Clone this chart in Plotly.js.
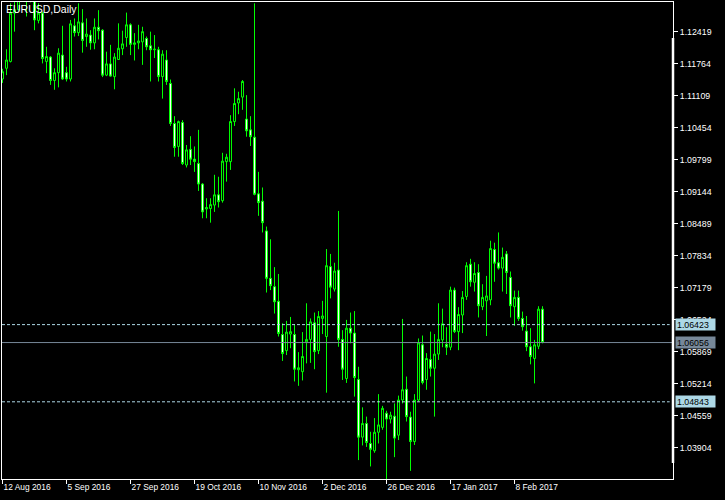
<!DOCTYPE html>
<html>
<head>
<meta charset="utf-8">
<script src="https://cdn.plot.ly/plotly-3.0.1.min.js"></script>
<style>
html,body{margin:0;padding:0;background:#000;}
#chart{width:725px;height:500px;}
</style>
</head>
<body>
<div id="chart"></div>
<script>
// ---- data (EURUSD daily) ----
const opens = [
1.1145,1.1167,1.1181,1.1280,1.1287,1.1350,1.1325,1.1318,1.1305,1.1265,
1.1280,1.1181,1.1190,1.1142,1.1158,1.1194,1.1158,1.1145,1.1254,1.1240,
1.1260,1.1232,1.1235,1.1219,1.1251,1.1245,1.1153,1.1176,1.1150,1.1185,
1.1207,1.1230,1.1256,1.1216,1.1219,1.1221,1.1228,1.1213,1.1205,1.1205,
1.1150,1.1184,1.1136,1.1054,1.1007,1.1056,1.0969,1.1001,1.0981,1.0972,
1.0930,1.0879,1.0880,1.0887,1.0908,1.0896,1.0976,1.0976,1.1058,1.1096,
1.1108,1.1063,1.1041,1.1026,1.0910,1.0895,1.0834,1.0737,1.0720,1.0690,
1.0622,1.0589,1.0623,1.0622,1.0550,1.0546,1.0607,1.0612,1.0646,1.0589,
1.0655,1.0618,1.0761,1.0715,1.0754,1.0612,1.0532,1.0635,1.0625,1.0530,
1.0412,1.0440,1.0399,1.0384,1.0422,1.0432,1.0461,1.0449,1.0455,1.0416,
1.0488,1.0510,1.0453,1.0403,1.0488,1.0601,1.0530,1.0571,1.0553,1.0582,
1.0611,1.0602,1.0596,1.0713,1.0628,1.0662,1.0700,1.0766,1.0729,1.0749,
1.0679,1.0691,1.0693,1.0796,1.0769,1.0758,1.0787,1.0739,1.0679,1.0698,
1.0655,1.0629,1.0597,1.0573,1.0598,1.0674];
const highs = [
1.1166,1.1206,1.1300,1.1310,1.1360,1.1362,1.1335,1.1350,1.1312,1.1300,
1.1283,1.1211,1.1192,1.1167,1.1208,1.1254,1.1170,1.1266,1.1269,1.1300,
1.1288,1.1269,1.1245,1.1269,1.1286,1.1247,1.1201,1.1215,1.1198,1.1259,
1.1244,1.1281,1.1259,1.1239,1.1256,1.1252,1.1232,1.1242,1.1235,1.1211,
1.1204,1.1204,1.1144,1.1069,1.1060,1.1061,1.1010,1.1028,1.1007,1.1041,
1.0932,1.0901,1.0901,1.0949,1.0945,1.0994,1.0992,1.1071,1.1126,1.1119,
1.1143,1.1112,1.1069,1.1300,1.0955,1.0923,1.0843,1.0817,1.0760,1.0746,
1.0645,1.0650,1.0658,1.0643,1.0586,1.0627,1.0686,1.0655,1.0667,1.0670,
1.0691,1.0797,1.0787,1.0769,1.0875,1.0631,1.0652,1.0667,1.0670,1.0556,
1.0473,1.0454,1.0423,1.0451,1.0500,1.0476,1.0466,1.0464,1.0481,1.0497,
1.0654,1.0536,1.0464,1.0500,1.0614,1.0620,1.0584,1.0628,1.0623,1.0686,
1.0675,1.0637,1.0720,1.0718,1.0678,1.0711,1.0770,1.0777,1.0770,1.0766,
1.0725,1.0742,1.0814,1.0810,1.0831,1.0800,1.0793,1.0751,1.0712,1.0712,
1.0669,1.0660,1.0635,1.0611,1.0680,1.0680];
const lows = [
1.1137,1.1153,1.1179,1.1242,1.1285,1.1312,1.1273,1.1302,1.1245,1.1259,
1.1177,1.1157,1.1133,1.1123,1.1128,1.1143,1.1140,1.1140,1.1232,1.1233,
1.1199,1.1211,1.1205,1.1206,1.1226,1.1149,1.1151,1.1150,1.1124,1.1184,
1.1194,1.1211,1.1194,1.1183,1.1206,1.1174,1.1204,1.1140,1.1188,1.1140,
1.1105,1.1133,1.1049,1.0986,1.0986,1.0969,1.0964,1.0969,1.0955,1.0916,
1.0860,1.0860,1.0851,1.0873,1.0882,1.0892,1.0935,1.0959,1.1049,1.1073,
1.1082,1.1027,1.1008,1.0907,1.0865,1.0831,1.0708,1.0713,1.0665,1.0618,
1.0568,1.0580,1.0594,1.0526,1.0517,1.0528,1.0563,1.0564,1.0551,1.0582,
1.0623,1.0503,1.0696,1.0710,1.0597,1.0529,1.0523,1.0604,1.0495,1.0365,
1.0395,1.0392,1.0352,1.0380,1.0399,1.0427,1.0310,1.0440,1.0371,1.0406,
1.0481,1.0444,1.0343,1.0396,1.0485,1.0520,1.0509,1.0536,1.0454,1.0570,
1.0596,1.0580,1.0590,1.0625,1.0590,1.0625,1.0693,1.0720,1.0710,1.0657,
1.0672,1.0619,1.0682,1.0730,1.0755,1.0710,1.0705,1.0657,1.0640,1.0650,
1.0630,1.0588,1.0561,1.0522,1.0592,1.0604];
const closes = [
1.1160,1.1184,1.1280,1.1287,1.1350,1.1325,1.1318,1.1308,1.1266,1.1280,
1.1187,1.1191,1.1142,1.1158,1.1198,1.1145,1.1145,1.1258,1.1240,1.1262,
1.1224,1.1237,1.1219,1.1251,1.1244,1.1153,1.1176,1.1151,1.1190,1.1208,
1.1217,1.1256,1.1216,1.1219,1.1223,1.1242,1.1211,1.1205,1.1206,1.1150,
1.1196,1.1140,1.1054,1.1005,1.1058,1.0972,1.1000,1.0981,1.0976,1.0930,
1.0873,1.0882,1.0888,1.0908,1.0894,1.0977,1.0985,1.1058,1.1095,1.1105,
1.1140,1.1039,1.1027,1.0909,1.0892,1.0851,1.0737,1.0722,1.0689,1.0624,
1.0583,1.0627,1.0628,1.0551,1.0554,1.0577,1.0612,1.0648,1.0587,1.0659,
1.0660,1.0763,1.0719,1.0752,1.0612,1.0551,1.0635,1.0625,1.0534,1.0412,
1.0440,1.0401,1.0387,1.0422,1.0437,1.0471,1.0449,1.0457,1.0410,1.0488,
1.0509,1.0454,1.0403,1.0488,1.0605,1.0524,1.0573,1.0553,1.0582,1.0612,
1.0644,1.0596,1.0713,1.0628,1.0663,1.0698,1.0763,1.0730,1.0747,1.0681,
1.0698,1.0701,1.0798,1.0768,1.0758,1.0780,1.0749,1.0681,1.0698,1.0655,
1.0638,1.0597,1.0577,1.0601,1.0674,1.06056];

const dateTickIndex = [0,16,32,48,64,80,96,112,128];
const dateTickLabels = ['12 Aug 2016','5 Sep 2016','27 Sep 2016','19 Oct 2016','10 Nov 2016','2 Dec 2016','26 Dec 2016','17 Jan 2017','8 Feb 2017'];
const priceTicks = [1.12419,1.11764,1.11109,1.10454,1.09799,1.09144,1.08489,1.07834,1.07179,1.06524,1.05869,1.05214,1.04559,1.03904];
const levelLines = [1.06423, 1.04843];
const bidPrice = [1.06056];
const chartTitle = 'EURUSD,Daily';

// ---- build ----
const barIndex = opens.map((_, i) => i);
const FONT = '"Liberation Sans", Arial, sans-serif';

const trace = {
  type: 'candlestick',
  x: barIndex, open: opens, high: highs, low: lows, close: closes,
  increasing: {line: {color: '#00ff00', width: 1}, fillcolor: '#000000'},
  decreasing: {line: {color: '#00ff00', width: 1}, fillcolor: '#ffffff'},
  whiskerwidth: 0,
  hoverinfo: 'skip',
  showlegend: false
};

const shapes = [];
levelLines.forEach(v => shapes.push({type:'line', xref:'paper', yref:'y', x0:0, x1:0.995, y0:v, y1:v,
  line:{color:'#add8e6', width:1, dash:'3px,2px'}, layer:'above'}));
bidPrice.forEach(v => shapes.push({type:'line', xref:'paper', yref:'y', x0:0, x1:1, y0:v, y1:v,
  line:{color:'#778899', width:1}, layer:'above'}));
// thick white marker on the price-scale border
shapes.push({type:'line', xref:'paper', yref:'paper', x0:1, x1:1, y0:0.0335, y1:0.9245,
  line:{color:'#ffffff', width:2.5}, layer:'above'});

const annotations = [];
levelLines.forEach(v => annotations.push({xref:'paper', yref:'y', x:1, y:v, xanchor:'left', yanchor:'middle',
  xshift:2, text:v.toFixed(5), showarrow:false, bgcolor:'#add8e6', font:{family:FONT, size:8.8, color:'#000'},
  width:37, height:9, borderpad:1, align:'left'}));
bidPrice.forEach(v => annotations.push({xref:'paper', yref:'y', x:1, y:v, xanchor:'left', yanchor:'middle',
  xshift:2, text:v.toFixed(5), showarrow:false, bgcolor:'#778899', font:{family:FONT, size:8.8, color:'#000'},
  width:37, height:9, borderpad:1, align:'left'}));
annotations.push({xref:'paper', yref:'paper', x:0, y:1, xanchor:'left', yanchor:'top', xshift:3, yshift:0,
  text:chartTitle, showarrow:false, font:{family:FONT, size:10.5, color:'#ffffff'}, borderpad:0});

const layout = {
  width: 725, height: 500,
  paper_bgcolor: '#000000', plot_bgcolor: '#000000',
  margin: {l:2, r:52, t:2, b:21, pad:0},
  font: {family: FONT, color:'#ffffff', size: 8.8},
  showlegend: false,
  boxgap: 0.3, boxgroupgap: 0.3,
  xaxis: {
    range: [-0.125, 167.625], rangeslider: {visible:false},
    tickmode:'array', tickvals: dateTickIndex, ticktext: dateTickLabels,
    ticks:'outside', ticklen:4, tickwidth:1, tickcolor:'#ffffff',
    ticklabelposition:'outside right',
    tickfont:{family:FONT, size:8.4, color:'#ffffff'},
    showline:true, linecolor:'#ffffff', linewidth:1, mirror:true,
    showgrid:false, zeroline:false, fixedrange:true
  },
  yaxis: {
    side:'right', range:[1.03263, 1.13027],
    tickmode:'array', tickvals: priceTicks, ticktext: priceTicks.map(v => v.toFixed(5)),
    ticks:'outside', ticklen:4, tickwidth:1, tickcolor:'#ffffff',
    tickfont:{family:FONT, size:8.8, color:'#ffffff'},
    showline:true, linecolor:'#ffffff', linewidth:1, mirror:true,
    showgrid:false, zeroline:false, fixedrange:true
  },
  shapes: shapes,
  annotations: annotations
};

Plotly.newPlot('chart', [trace], layout, {displayModeBar:false, staticPlot:true});
</script>
</body>
</html>
